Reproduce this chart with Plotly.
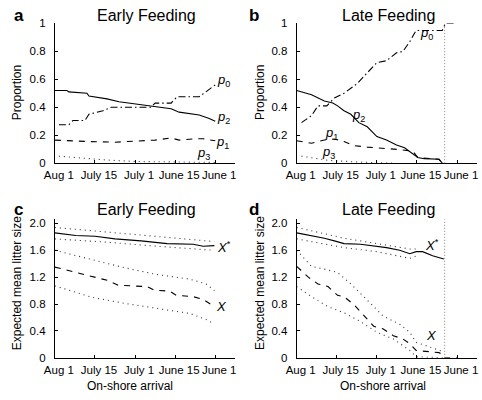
import plotly.graph_objects as go

W, H = 482, 400

tick_pos = [0, 1, 2, 3, 4]
tick_labels = ["Aug 1", "July 15", "July 1", "June 15", "June 1"]

# Panel a: Early Feeding proportions
a_p2_x = [0, 0.3, 0.35, 0.8, 0.85, 1.3, 1.6, 2.0, 2.4, 2.9, 3.1, 3.6, 3.85, 4.0]
a_p2_y = [0.52, 0.52, 0.51, 0.50, 0.48, 0.46, 0.44, 0.425, 0.405, 0.39, 0.365, 0.345, 0.32, 0.30]
a_p0_x = [0.1, 0.35, 0.45, 0.75, 0.85, 1.2, 1.4, 2.4, 2.5, 2.9, 3.05, 3.6, 4.0]
a_p0_y = [0.275, 0.275, 0.305, 0.305, 0.35, 0.375, 0.40, 0.40, 0.43, 0.43, 0.475, 0.475, 0.56]
a_p1_x = [0, 0.3, 0.8, 1.5, 2.0, 2.5, 2.9, 3.1, 3.5, 3.7, 4.0]
a_p1_y = [0.165, 0.16, 0.155, 0.15, 0.16, 0.165, 0.18, 0.165, 0.175, 0.175, 0.16]
a_p3_x = [0.1, 0.5, 1.3, 2.0, 3.0, 4.0]
a_p3_y = [0.05, 0.04, 0.022, 0.012, 0.007, 0.005]

# Panel b: Late Feeding proportions
b_p2_x = [0, 0.37, 0.69, 0.9, 1.02, 1.18, 1.35, 1.55, 1.76, 2.0, 2.24, 2.49, 2.69, 2.9, 3.02, 3.18, 3.55, 3.63]
b_p2_y = [0.52, 0.49, 0.445, 0.43, 0.41, 0.375, 0.35, 0.29, 0.26, 0.19, 0.166, 0.13, 0.11, 0.062, 0.04, 0.032, 0.028, 0.0]
b_p0_x = [0.12, 0.37, 0.53, 0.75, 0.94, 1.18, 1.51, 1.76, 2.0, 2.24, 2.49, 2.65, 2.82, 2.98, 3.63, 3.71, 3.96]
b_p0_y = [0.29, 0.34, 0.41, 0.41, 0.467, 0.50, 0.57, 0.65, 0.72, 0.733, 0.79, 0.80, 0.87, 0.95, 0.95, 1.0, 1.0]
b_p1_x = [0, 0.37, 0.69, 0.94, 1.18, 1.43, 1.76, 2.16, 2.57, 2.9, 3.02, 3.55, 3.63]
b_p1_y = [0.16, 0.143, 0.166, 0.173, 0.155, 0.125, 0.115, 0.108, 0.097, 0.085, 0.04, 0.028, 0.0]
b_p3_x = [0.12, 0.78, 1.6, 2.4]
b_p3_y = [0.05, 0.02, 0.007, 0.0]

# Panel c: Early Feeding litter size
c_xs_x = [0, 0.52, 1.0, 1.5, 2.15, 2.8, 3.45, 3.7, 3.98]
c_xs_y = [1.86, 1.82, 1.81, 1.77, 1.74, 1.70, 1.69, 1.66, 1.67]
c_xs_hi_x = [0, 1.33, 2.55, 3.98]
c_xs_hi_y = [1.94, 1.87, 1.80, 1.73]
c_xs_lo_x = [0, 1.33, 2.55, 3.98]
c_xs_lo_y = [1.77, 1.72, 1.66, 1.60]
c_x_x = [0, 0.52, 1.0, 1.33, 1.58, 2.3, 2.46, 2.87, 3.03, 3.45, 3.7, 3.98]
c_x_y = [1.35, 1.27, 1.195, 1.15, 1.08, 1.06, 1.01, 0.99, 0.93, 0.91, 0.87, 0.76]
c_x_hi_x = [0, 0.93, 1.74, 2.55, 3.37, 3.77, 3.98]
c_x_hi_y = [1.6, 1.46, 1.34, 1.24, 1.17, 1.10, 1.0]
c_x_lo_x = [0, 0.93, 1.74, 2.55, 3.37, 3.77, 3.98]
c_x_lo_y = [1.07, 0.9, 0.81, 0.74, 0.66, 0.57, 0.50]

# Panel d: Late Feeding litter size
d_xs_x = [0, 0.37, 0.69, 0.94, 1.18, 1.59, 1.84, 2.24, 2.57, 2.82, 2.98, 3.14, 3.39, 3.67]
d_xs_y = [1.86, 1.82, 1.78, 1.74, 1.70, 1.69, 1.67, 1.64, 1.60, 1.55, 1.58, 1.58, 1.52, 1.47]
d_xs_hi_x = [0, 1.18, 2.0, 2.82, 3.0]
d_xs_hi_y = [1.94, 1.78, 1.70, 1.62, 1.62]
d_xs_lo_x = [0, 1.18, 2.0, 2.82, 3.0]
d_xs_lo_y = [1.77, 1.64, 1.58, 1.48, 1.52]
d_x_x = [0, 0.29, 0.53, 0.78, 1.02, 1.18, 1.43, 1.67, 1.92, 2.16, 2.41, 2.65, 2.82, 2.98, 3.31, 3.55, 3.67, 3.69, 4.0]
d_x_y = [1.36, 1.20, 1.10, 1.06, 0.93, 0.91, 0.79, 0.64, 0.47, 0.43, 0.33, 0.28, 0.21, 0.11, 0.09, 0.077, 0.04, 0.0, 0.0]
d_x_hi_x = [0, 0.37, 0.69, 1.02, 1.35, 1.67, 2.16, 2.57, 2.82, 2.98, 3.31, 3.67]
d_x_hi_y = [1.6, 1.36, 1.32, 1.27, 1.10, 0.91, 0.62, 0.50, 0.38, 0.23, 0.16, 0.09]
d_x_lo_x = [0, 0.37, 0.78, 1.18, 1.59, 2.0, 2.41, 2.82, 2.98, 3.67]
d_x_lo_y = [1.06, 0.91, 0.76, 0.67, 0.54, 0.38, 0.28, 0.11, 0.015, 0.0]

cutoff_x = 3.69

FONT = "Liberation Sans, Arial, Helvetica, sans-serif"
DASH = "6px,6px"
DOT = "1px,4px"
DASHDOT = "7px,3px,1.5px,3px"
fig = go.Figure()

def px_x(p):
    return p / W

def px_y(p):
    return 1 - p / H

def line(x, y, axis, dash, color="black", width=1.1):
    fig.add_trace(go.Scatter(x=x, y=y, mode="lines", xaxis="x" + axis, yaxis="y" + axis,
                             line=dict(color=color, width=width, dash=dash),
                             showlegend=False, hoverinfo="skip"))

# panel a
line(a_p2_x, a_p2_y, "", "solid")
line(a_p0_x, a_p0_y, "", DASHDOT)
line(a_p1_x, a_p1_y, "", DASH)
line(a_p3_x, a_p3_y, "", DOT, "#333")
# panel b
line(b_p2_x, b_p2_y, "2", "solid")
line(b_p0_x, b_p0_y, "2", DASHDOT)
line(b_p1_x, b_p1_y, "2", DASH)
line(b_p3_x, b_p3_y, "2", DOT, "#333")
# panel c
line(c_xs_x, c_xs_y, "3", "solid")
line(c_xs_hi_x, c_xs_hi_y, "3", DOT, "#333")
line(c_xs_lo_x, c_xs_lo_y, "3", DOT, "#333")
line(c_x_x, c_x_y, "3", DASH)
line(c_x_hi_x, c_x_hi_y, "3", DOT, "#333")
line(c_x_lo_x, c_x_lo_y, "3", DOT, "#333")
# panel d
line(d_xs_x, d_xs_y, "4", "solid")
line(d_xs_hi_x, d_xs_hi_y, "4", DOT, "#333")
line(d_xs_lo_x, d_xs_lo_y, "4", DOT, "#333")
line(d_x_x, d_x_y, "4", DASH)
line(d_x_hi_x, d_x_hi_y, "4", DOT, "#333")
line(d_x_lo_x, d_x_lo_y, "4", DOT, "#333")

xdom_l = [px_x(45), px_x(230)]
xdom_r = [px_x(293), px_x(478)]
ydom_t = [px_y(162), px_y(18)]
ydom_b = [px_y(362.7), px_y(220)]

def xaxis(dom, anchor):
    return dict(domain=dom, anchor=anchor, range=[0, 4.5], tickvals=tick_pos, ticktext=tick_labels,
                showline=True, linecolor="black", linewidth=1, ticks="inside", ticklen=3,
                tickcolor="black", showgrid=False, zeroline=False, ticklabelshift=4,
                ticklabelstandoff=1,
                tickfont=dict(family=FONT, size=11.5, color="black"), fixedrange=True)

def yaxis(dom, anchor, rng, vals, texts):
    return dict(domain=dom, anchor=anchor, range=rng, tickvals=vals, ticktext=texts,
                showline=True, linecolor="black", linewidth=1, ticks="inside", ticklen=3,
                tickcolor="black", showgrid=False, zeroline=False, ticklabelstandoff=6,
                tickfont=dict(family=FONT, size=11.5, color="black"), fixedrange=True)

prop_vals = [0, 0.2, 0.4, 0.6, 0.8, 1.0]
prop_text = ["0", "0.2", "0.4", "0.6", "0.8", "1"]
lit_vals = [0, 0.4, 0.8, 1.2, 1.6, 2.0]
lit_text = ["0", "0.4", "0.8", "1.2", "1.6", "2.0"]

fig.update_layout(
    width=W, height=H, margin=dict(l=0, r=0, t=0, b=0),
    paper_bgcolor="white", plot_bgcolor="white",
    font=dict(family=FONT, color="black"),
    xaxis=xaxis(xdom_l, "y"), yaxis=yaxis(ydom_t, "x", [0, 1.0], prop_vals, prop_text),
    xaxis2=xaxis(xdom_r, "y2"), yaxis2=yaxis(ydom_t, "x2", [0, 1.0], prop_vals, prop_text),
    xaxis3=xaxis(xdom_l, "y3"), yaxis3=yaxis(ydom_b, "x3", [0, 2.06], lit_vals, lit_text),
    xaxis4=xaxis(xdom_r, "y4"), yaxis4=yaxis(ydom_b, "x4", [0, 2.06], lit_vals, lit_text),
)

# vertical dotted cut-off lines
for xr, yr in [("x2", "y2"), ("x4", "y4")]:
    fig.add_shape(type="line", xref=xr, yref=yr + " domain", x0=cutoff_x, x1=cutoff_x, y0=0, y1=1,
                  line=dict(color="#888", width=1, dash="1px,2px"))

ann = []
def text(x, y, t, size, xanchor="center", yanchor="middle", angle=0, xref="paper", yref="paper"):
    ann.append(dict(x=x, y=y, xref=xref, yref=yref, text=t, showarrow=False, textangle=angle,
                    xanchor=xanchor, yanchor=yanchor, font=dict(family=FONT, size=size, color="black")))

# panel letters
for lx, ly, lt in [(1, 10, "a"), (242, 10, "b"), (1, 210, "c"), (242, 210, "d")]:
    text(px_x(lx), px_y(ly), "<b>" + lt + "</b>", 17, xanchor="left")
# titles
text(px_x(139), px_y(10), "Early Feeding", 16)
text(px_x(387), px_y(10), "Late Feeding", 16)
text(px_x(139), px_y(210), "Early Feeding", 16)
text(px_x(387), px_y(210), "Late Feeding", 16)
# axis titles
text(px_x(7), px_y(89), "Proportion", 12, angle=-90)
text(px_x(256), px_y(89), "Proportion", 12, angle=-90)
text(px_x(7), px_y(286), "Expected mean litter size", 12, angle=-90)
text(px_x(256), px_y(286), "Expected mean litter size", 12, angle=-90)
text(px_x(122), px_y(392), "On-shore arrival", 12)
text(px_x(381), px_y(392), "On-shore arrival", 12)

# series labels
def p(i):
    return "<i>p</i><sub>%d</sub>" % i

text(4.2, 0.59, p(0), 13, xref="x", yref="y")
text(4.2, 0.33, p(2), 13, xref="x", yref="y")
text(4.18, 0.15, p(1), 13, xref="x", yref="y")
text(3.7, 0.07, p(3), 13, xref="x", yref="y")
text(3.24, 0.93, p(0), 13, xref="x2", yref="y2")
text(1.54, 0.34, p(2), 13, xref="x2", yref="y2")
text(0.88, 0.21, p(1), 13, xref="x2", yref="y2")
text(0.8, 0.075, p(3), 13, xref="x2", yref="y2")
text(4.22, 1.65, "<i>X</i><sup>*</sup>", 13, xref="x3", yref="y3")
text(4.15, 0.76, "<i>X</i>", 13, xref="x3", yref="y3")
text(3.37, 1.68, "<i>X</i><sup>*</sup>", 13, xref="x4", yref="y4")
text(3.37, 0.33, "<i>X</i>", 13, xref="x4", yref="y4")

fig.update_layout(annotations=ann)
fig.write_html("out.html", config={"displayModeBar": False},
               post_script="document.body.style.margin='0px';")
